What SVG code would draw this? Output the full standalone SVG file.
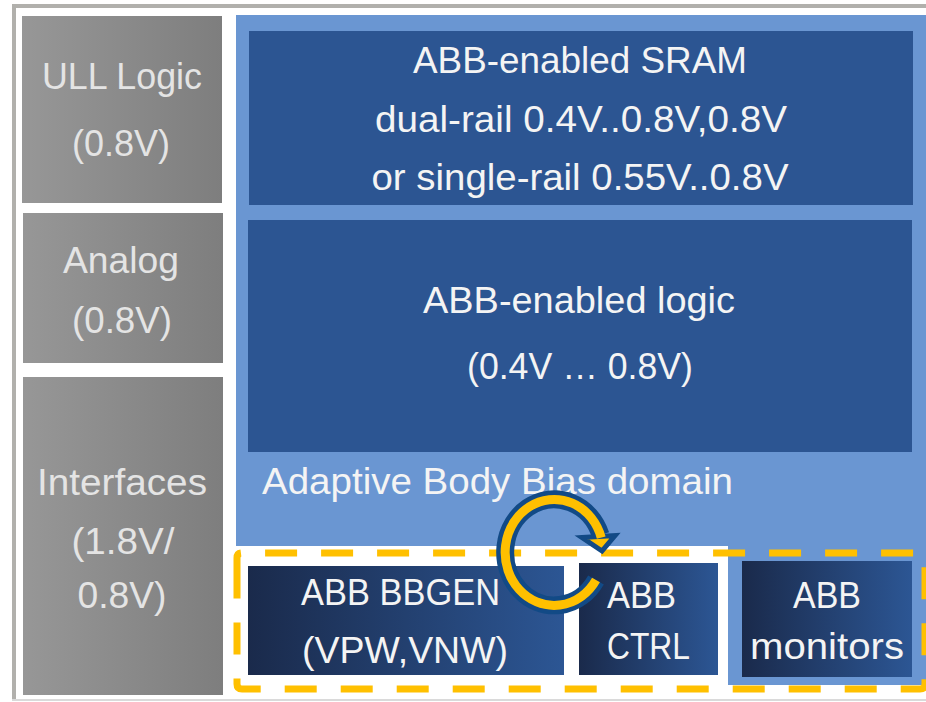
<svg xmlns="http://www.w3.org/2000/svg" width="926" height="702" viewBox="0 0 926 702">
<defs>
<linearGradient id="gGray" x1="0" y1="0" x2="1" y2="0"><stop offset="0" stop-color="#979797"/><stop offset="1" stop-color="#7e7e7e"/></linearGradient>
<linearGradient id="gBlue" x1="0" y1="0" x2="1" y2="0"><stop offset="0" stop-color="#1a2a4b"/><stop offset="1" stop-color="#2c5694"/></linearGradient>
<style>
text{font-family:"Liberation Sans",Arial,sans-serif;font-size:37px;text-anchor:middle}
.tg{fill:#e4e4e4}
.tw{fill:#f4f4f4}
.gray{fill:url(#gGray)}
.dark{fill:#2c5592}
.grad{fill:url(#gBlue)}
</style>
</defs>
<rect width="926" height="702" fill="#ffffff"/>
<g id="frame">
<line x1="12" y1="6" x2="926" y2="6" stroke="#b1b0ac" stroke-width="4"/>
<line x1="14" y1="4" x2="14" y2="701" stroke="#b1b0ac" stroke-width="4"/>
<line x1="12" y1="700" x2="926" y2="700" stroke="#dadada" stroke-width="2"/>
</g>
<g id="ull">
<rect class="gray" x="22" y="16" width="200" height="187"/>
<text class="tg" x="122" y="89" textLength="160" lengthAdjust="spacingAndGlyphs">ULL Logic</text>
<text class="tg" x="121" y="156" textLength="98" lengthAdjust="spacingAndGlyphs">(0.8V)</text>
</g>
<g id="analog">
<rect class="gray" x="23" y="213" width="200" height="150"/>
<text class="tg" x="121" y="273" textLength="116" lengthAdjust="spacingAndGlyphs">Analog</text>
<text class="tg" x="122" y="333" textLength="100" lengthAdjust="spacingAndGlyphs">(0.8V)</text>
</g>
<g id="interfaces">
<rect class="gray" x="23" y="377" width="200" height="318"/>
<text class="tg" x="122" y="495" textLength="170" lengthAdjust="spacingAndGlyphs">Interfaces</text>
<text class="tg" x="123" y="554" textLength="103" lengthAdjust="spacingAndGlyphs">(1.8V/</text>
<text class="tg" x="122" y="608" textLength="89" lengthAdjust="spacingAndGlyphs">0.8V)</text>
</g>
<g id="abb-domain">
<path d="M236 15 H926 V685 H728 V546 H236 Z" fill="#6a96d2"/>
<text class="tw" x="262" y="494" style="text-anchor:start" textLength="471" lengthAdjust="spacingAndGlyphs">Adaptive Body Bias domain</text>
</g>
<g id="sram">
<rect class="dark" x="249" y="31" width="664" height="174"/>
<text class="tw" x="580" y="73" textLength="334" lengthAdjust="spacingAndGlyphs">ABB-enabled SRAM</text>
<text class="tw" x="581" y="132" textLength="412" lengthAdjust="spacingAndGlyphs">dual-rail 0.4V..0.8V,0.8V</text>
<text class="tw" x="580" y="190" textLength="417" lengthAdjust="spacingAndGlyphs">or single-rail 0.55V..0.8V</text>
</g>
<g id="logic">
<rect class="dark" x="248" y="220" width="664" height="232"/>
<text class="tw" x="579" y="313" textLength="312" lengthAdjust="spacingAndGlyphs">ABB-enabled logic</text>
<text class="tw" x="580" y="379" textLength="226" lengthAdjust="spacingAndGlyphs">(0.4V … 0.8V)</text>
</g>
<g id="bbgen">
<rect class="grad" x="248" y="566" width="316" height="109"/>
<text class="tw" x="400.5" y="605" textLength="199" lengthAdjust="spacingAndGlyphs">ABB BBGEN</text>
<text class="tw" x="405" y="663" textLength="206" lengthAdjust="spacingAndGlyphs">(VPW,VNW)</text>
</g>
<g id="ctrl">
<rect class="grad" x="579" y="563" width="139" height="112"/>
<text class="tw" x="607" y="608" style="text-anchor:start" textLength="69" lengthAdjust="spacingAndGlyphs">ABB</text>
<text class="tw" x="607" y="659" style="text-anchor:start" textLength="83" lengthAdjust="spacingAndGlyphs">CTRL</text>
</g>
<g id="monitors">
<rect class="grad" x="742" y="561" width="170" height="116"/>
<text class="tw" x="827" y="608" textLength="68" lengthAdjust="spacingAndGlyphs">ABB</text>
<text class="tw" x="827" y="659" textLength="154" lengthAdjust="spacingAndGlyphs">monitors</text>
</g>
<g id="connectors">
<path d="M237 583 V558 Q237 553 242 553 H920 Q925 553 925 558 V684 Q925 689 920 689 H242 Q237 689 237 684 Z" fill="none" stroke="#ffc000" stroke-width="7" stroke-dasharray="32 24"/>
<path d="M596 580 A49 53 0 1 1 600.5 535" fill="none" stroke="#124a86" stroke-width="18"/>
<polygon points="582,537.5 615,535.5 602,551" fill="#ffc000" stroke="#124a86" stroke-width="5" stroke-linejoin="miter"/>
<path d="M596 580 A49 53 0 1 1 601.2 537.6" fill="none" stroke="#ffc000" stroke-width="9"/>
</g>
</svg>
